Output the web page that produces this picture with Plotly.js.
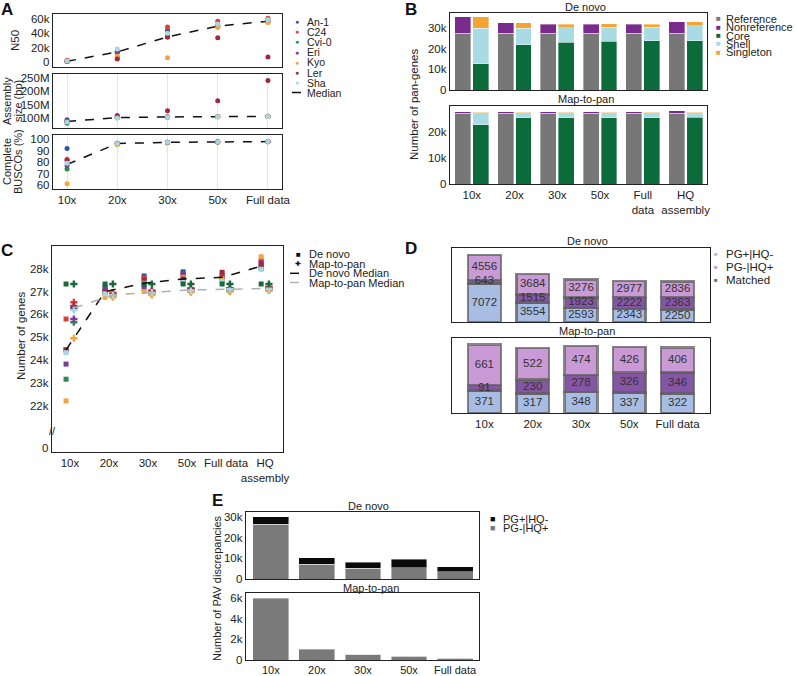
<!DOCTYPE html>
<html>
<head>
<meta charset="utf-8">
<script src="https://cdn.plot.ly/plotly-3.0.1.min.js"></script>
<style>
body { margin: 0; background: #fff; }
#plotArea { width: 797px; height: 676px; }
</style>
</head>
<body>
<div id="plotArea"></div>
<script>
var W = 797, H = 676;
var FONT = "Liberation Sans, Arial, sans-serif";
function px(x) { return x / W; }
function py(y) { return 1 - y / H; }

// ---- panel A: assembly stats per coverage ----
var coverage = ["10x", "20x", "30x", "50x", "Full data"];
var accessions = ["An-1", "C24", "Cvi-0", "Eri", "Kyo", "Ler", "Sha"];
var accColors = ["#2f559a", "#e23b3b", "#2b8a4f", "#7b3b96", "#f2a53a", "#a3283c", "#a9d6e3"];

var n50 = [
    [1500, 15000, 44000, 51000, 58000],
    [2500, 6000, 49000, 57000, 61000],
    [1000, 13000, 36000, 50000, 57000],
    [800, 14000, 35000, 50000, 56000],
    [1200, 8000, 6000, 48000, 55000],
    [1000, 4000, 35000, 34000, 7000],
    [1500, 18000, 40000, 53000, 59000]
];
var n50Median = [1000, 14000, 35000, 50000, 57000];

var asmSize = [
    [94e6, 103e6, 104e6, 106e6, 107e6],
    [88e6, 102e6, 104e6, 105e6, 106e6],
    [81e6, 101e6, 103e6, 105e6, 106e6],
    [87e6, 102e6, 104e6, 106e6, 107e6],
    [86e6, 101e6, 103e6, 105e6, 106e6],
    [88e6, 110e6, 127e6, 165e6, 240e6],
    [85e6, 100e6, 103e6, 105e6, 106e6]
];
var asmMedian = [87e6, 102e6, 104e6, 106e6, 106.5e6];

var busco = [
    [92, 96.5, 97.5, 97.8, 98],
    [82.5, 96, 97.3, 97.7, 97.9],
    [74, 96, 97.2, 97.6, 97.8],
    [77, 96.3, 97.4, 97.8, 98],
    [61, 95.5, 96.8, 97.6, 97.9],
    [81.5, 96.5, 97.5, 97.8, 98],
    [79, 96.4, 97.4, 97.8, 98]
];
var buscoMedian = [78, 96.3, 97.4, 97.8, 98];

// ---- panel B: pan-genes ----
var bCats = ["10x", "20x", "30x", "50x", "Full<br>data", "HQ<br>assembly"];
var dnReference = [27300, 27300, 27300, 27300, 27300, 27300];
var dnNonreference = [7900, 5000, 4500, 4500, 4500, 5500];
var dnCore = [12700, 21900, 22900, 23400, 23700, 23700];
var dnShell = [17000, 7800, 7100, 6800, 6500, 7300];
var dnSingleton = [5500, 2600, 1800, 1700, 1600, 1800];
var mpReference = [26900, 26900, 26900, 26900, 26900, 26900];
var mpNonreference = [600, 600, 600, 600, 600, 1000];
var mpCore = [22500, 25200, 25200, 25200, 25200, 25400];
var mpShell = [4700, 2000, 2000, 2000, 2000, 1800];
var mpSingleton = [100, 100, 100, 100, 100, 100];
var panNames = ["Reference", "Nonreference", "Core", "Shell", "Singleton"];
var panColors = ["#777777", "#7a2a8c", "#0b6b3a", "#a8dbe3", "#f4a531"];

// ---- panel C: number of genes ----
var cCats = ["10x", "20x", "30x", "50x", "Full data", "HQ<br>assembly"];
var cDenovo = [
    [24450, 27200, 27680, 27860, 27600, 28080],
    [25800, 27000, 27580, 27720, 27720, 28380],
    [23170, 26950, 27300, 27450, 27500, 28000],
    [23830, 27100, 27140, 27790, 27600, 28260],
    [22220, 26750, 27000, 27620, 27550, 28520],
    [24450, 27000, 27500, 27550, 27840, 28190],
    [24330, 26900, 27360, 27400, 27430, 27970]
];
var cMapToPan = [
    [26280, 26900, 27000, 27100, 27100, 27150],
    [26530, 26950, 27050, 27150, 27150, 27200],
    [25660, 26800, 26900, 27000, 27020, 27050],
    [25800, 26850, 26950, 27050, 27080, 27100],
    [24960, 26750, 26850, 26980, 27000, 27050],
    [26370, 26900, 27000, 27120, 27130, 27180],
    [26190, 26850, 26950, 27050, 27100, 27120]
];
var cReference = [27330, 27330, 27330, 27330, 27330, 27330];
var cDenovoMedian = [24450, 27000, 27360, 27550, 27620, 28110];
var cMapMedian = [26280, 26850, 26970, 27070, 27100, 27140];

// ---- panel D: PAV comparison ----
var dCats = ["10x", "20x", "30x", "50x", "Full data"];
var dDnPgHq = [7072, 3554, 2593, 2343, 2250];
var dDnMatched = [643, 1515, 1923, 2222, 2363];
var dDnHqPg = [4556, 3684, 3276, 2977, 2836];
var dMpPgHq = [371, 317, 348, 337, 322];
var dMpMatched = [91, 230, 278, 326, 346];
var dMpHqPg = [661, 522, 474, 426, 406];
var dNames = ["PG+|HQ-", "PG-|HQ+", "Matched"];
var dColors = ["#a8bde3", "#c99ad6", "#8656a6"];

// ---- panel E: PAV discrepancies ----
var eCats = ["10x", "20x", "30x", "50x", "Full data"];
var eDnMissing = [26400, 7100, 5200, 5500, 3500];
var eDnExtra = [3600, 3200, 3000, 4000, 2400];
var eMpMissing = [5950, 1000, 560, 380, 190];
var eMpExtra = [30, 20, 20, 40, 20];

var traces = [];
var annotations = [];
var shapes = [];

function note(text, x, y, o) {
    o = o || {};
    return {
        text: text, x: px(x), y: py(y), xref: "paper", yref: "paper", showarrow: false,
        xanchor: o.xanchor || "center", yanchor: o.yanchor || "middle", textangle: o.angle || 0,
        font: {family: FONT, size: o.size || 11, color: o.color || "#222"}
    };
}

function dashLine(x0, x1, y, color) {
    shapes.push({type: "line", xref: "paper", yref: "paper", x0: px(x0), x1: px(x1), y0: py(y), y1: py(y),
        line: {color: color, dash: "dash", width: 1.5}});
}

// A traces
var aMetrics = [n50, asmSize, busco];
var aMedians = [n50Median, asmMedian, buscoMedian];
aMetrics.forEach(function (metric, m) {
    var xa = m === 0 ? "x" : "x" + (m + 1);
    var ya = m === 0 ? "y" : "y" + (m + 1);
    traces.push({x: coverage, y: aMedians[m], type: "scatter", mode: "lines", xaxis: xa, yaxis: ya,
        line: {color: "#111", dash: "dash", width: 1.5}, showlegend: false});
    accessions.forEach(function (acc, k) {
        traces.push({x: coverage, y: metric[k], type: "scatter", mode: "markers", name: acc, xaxis: xa, yaxis: ya,
            marker: {color: accColors[k], size: 5}, showlegend: false});
    });
});

// B traces
var bIdx = bCats.map(function (c, i) { return i; });
var bLeft = bIdx.map(function (i) { return i - 0.21; });
var bRight = bIdx.map(function (i) { return i + 0.21; });
function panBars(xa, ya, series) {
    series.forEach(function (vals, k) {
        traces.push({type: "bar", x: k < 2 ? bLeft : bRight, y: vals, width: 0.37, name: panNames[k],
            xaxis: xa, yaxis: ya, showlegend: false,
            marker: {color: panColors[k], line: {color: "rgba(255,255,255,0.6)", width: 0.6}}});
    });
}
panBars("x4", "y4", [dnReference, dnNonreference, dnCore, dnShell, dnSingleton]);
panBars("x5", "y5", [mpReference, mpNonreference, mpCore, mpShell, mpSingleton]);

// C traces
var cIdx = cCats.map(function (c, i) { return i; });
var cLeft = cIdx.map(function (i) { return i - 0.1; });
var cRight = cIdx.map(function (i) { return i + 0.1; });
accessions.forEach(function (acc, k) {
    traces.push({x: cLeft, y: cDenovo[k], type: "scatter", mode: "markers", name: acc, xaxis: "x6", yaxis: "y6",
        marker: {color: accColors[k], size: 5, symbol: "square"}, showlegend: false});
});
accessions.forEach(function (acc, k) {
    traces.push({x: cRight, y: cMapToPan[k], type: "scatter", mode: "markers", name: acc, xaxis: "x6", yaxis: "y6",
        marker: {color: accColors[k], size: 6, symbol: "cross"}, showlegend: false});
});
traces.push({x: cLeft, y: cReference, type: "scatter", mode: "markers", xaxis: "x6", yaxis: "y6",
    marker: {color: "#166a3c", size: 5, symbol: "square"}, showlegend: false});
traces.push({x: cRight, y: cReference, type: "scatter", mode: "markers", xaxis: "x6", yaxis: "y6",
    marker: {color: "#166a3c", size: 6, symbol: "cross"}, showlegend: false});
traces.push({x: cLeft, y: cDenovoMedian, type: "scatter", mode: "lines", xaxis: "x6", yaxis: "y6",
    line: {color: "#111", dash: "dash", width: 1.5}, showlegend: false});
traces.push({x: cRight, y: cMapMedian, type: "scatter", mode: "lines", xaxis: "x6", yaxis: "y6",
    line: {color: "#b0b0b0", dash: "dash", width: 1.5}, showlegend: false});

// D traces
function pavBars(xa, ya, bottom, middle, top) {
    var segs = [bottom, middle, top];
    var colors = [dColors[0], dColors[2], dColors[1]];
    segs.forEach(function (vals, k) {
        traces.push({type: "bar", x: dCats, y: vals, width: 0.68, xaxis: xa, yaxis: ya, showlegend: false,
            marker: {color: colors[k], line: {color: "rgba(95,95,95,0.75)", width: 2.5}}});
    });
    var mids = [], labels = [], xs = [];
    dCats.forEach(function (c, i) {
        var b = bottom[i], m = middle[i], t = top[i];
        xs.push(c, c, c);
        mids.push(b / 2, b + m / 2, b + m + t / 2);
        labels.push(String(b), String(m), String(t));
    });
    traces.push({type: "scatter", mode: "text", x: xs, y: mids, text: labels, xaxis: xa, yaxis: ya,
        textfont: {family: FONT, size: 11.5, color: "#333"}, showlegend: false, hoverinfo: "skip"});
}
pavBars("x7", "y7", dDnPgHq, dDnMatched, dDnHqPg);
pavBars("x8", "y8", dMpPgHq, dMpMatched, dMpHqPg);

// E traces
function discBars(xa, ya, missing, extra) {
    traces.push({type: "bar", x: eCats, y: missing, width: 0.78, xaxis: xa, yaxis: ya, name: "PG-|HQ+",
        marker: {color: "#7a7a7a", line: {color: "rgba(255,255,255,0.7)", width: 0.6}}, showlegend: false});
    traces.push({type: "bar", x: eCats, y: extra, width: 0.78, xaxis: xa, yaxis: ya, name: "PG+|HQ-",
        marker: {color: "#0a0a0a", line: {color: "rgba(255,255,255,0.7)", width: 0.6}}, showlegend: false});
}
discBars("x9", "y9", eDnMissing, eDnExtra);
discBars("x10", "y10", eMpMissing, eMpExtra);

// axes
function axis(x0, x1, extra) {
    return Object.assign({
        domain: [x0, x1], showline: true, mirror: true, linecolor: "#222", linewidth: 1.2,
        ticks: "", showgrid: false, zeroline: false, fixedrange: true, tickangle: 0,
        tickfont: {family: FONT, size: 11.5, color: "#222"}
    }, extra);
}
var smallTicks = {family: FONT, size: 11, color: "#222"};
var layout = {
    width: W, height: H, autosize: false,
    margin: {l: 0, r: 0, t: 0, b: 0},
    paper_bgcolor: "#fff", plot_bgcolor: "#fff",
    showlegend: false, barmode: "stack",
    font: {family: FONT, size: 11, color: "#222"},
    xaxis: axis(px(53), px(282), {anchor: "y", type: "category", categoryarray: coverage, range: [-0.28, 4.28], showticklabels: false}),
    yaxis: axis(py(67), py(14), {anchor: "x", range: [-7000, 67000], tickvals: [0, 20000, 40000, 60000], tickformat: "~s"}),
    xaxis2: axis(px(53), px(282), {anchor: "y2", type: "category", categoryarray: coverage, range: [-0.28, 4.28], showticklabels: false, showgrid: true, gridcolor: "#dfe7ef"}),
    yaxis2: axis(py(128), py(74), {anchor: "x2", range: [62.8e6, 264.7e6], tickvals: [100e6, 150e6, 200e6, 250e6], tickformat: "~s"}),
    xaxis3: axis(px(53), px(282), {anchor: "y3", type: "category", categoryarray: coverage, range: [-0.28, 4.28], showgrid: true, gridcolor: "#dfe7ef"}),
    yaxis3: axis(py(189), py(135), {anchor: "x3", range: [56.4, 103.8], tickvals: [60, 70, 80, 90, 100]}),
    xaxis4: axis(px(450), px(707), {anchor: "y4", range: [-0.51, 5.5], showticklabels: false}),
    yaxis4: axis(py(90), py(13), {anchor: "x4", range: [0, 37100], tickvals: [0, 10000, 20000, 30000], tickformat: "~s"}),
    xaxis5: axis(px(450), px(707), {anchor: "y5", range: [-0.51, 5.5], tickvals: bIdx, ticktext: bCats}),
    yaxis5: axis(py(184), py(106), {anchor: "x5", range: [0, 29700], tickvals: [0, 10000, 20000], tickformat: "~s"}),
    xaxis6: axis(px(52), px(283), {anchor: "y6", range: [-0.46, 5.46], tickvals: cIdx, ticktext: cCats}),
    yaxis6: axis(py(452), py(246), {anchor: "x6", range: [19990, 28990],
        tickvals: [20170, 22000, 23000, 24000, 25000, 26000, 27000, 28000],
        ticktext: ["0", "22k", "23k", "24k", "25k", "26k", "27k", "28k"]}),
    xaxis7: axis(px(452), px(710), {anchor: "y7", type: "category", categoryarray: dCats, range: [-0.67, 4.67], showticklabels: false}),
    yaxis7: axis(py(322), py(248), {anchor: "x7", range: [0, 13550], showticklabels: false}),
    xaxis8: axis(px(452), px(710), {anchor: "y8", type: "category", categoryarray: dCats, range: [-0.67, 4.67]}),
    yaxis8: axis(py(413), py(338), {anchor: "x8", range: [0, 1233], showticklabels: false}),
    xaxis9: axis(px(246), px(479), {anchor: "y9", type: "category", categoryarray: eCats, range: [-0.54, 4.52], showticklabels: false}),
    yaxis9: axis(py(579), py(512), {anchor: "x9", range: [0, 32400], tickvals: [0, 10000, 20000, 30000], tickformat: "~s"}),
    xaxis10: axis(px(246), px(479), {anchor: "y10", type: "category", categoryarray: eCats, range: [-0.54, 4.52], tickfont: smallTicks}),
    yaxis10: axis(py(660), py(593), {anchor: "x10", range: [0, 6500], tickvals: [0, 2000, 4000, 6000], tickformat: "~s"})
};

// panel letters
[["A", 7, 9], ["B", 411, 9], ["C", 7, 250], ["D", 411, 249], ["E", 217, 501]].forEach(function (p) {
    annotations.push(note("<b>" + p[0] + "</b>", p[1], p[2], {size: 17, color: "#111"}));
});

// subplot titles
annotations.push(note("De novo", 585, 7));
annotations.push(note("Map-to-pan", 586, 99));
annotations.push(note("De novo", 587, 241));
annotations.push(note("Map-to-pan", 587, 331));
annotations.push(note("De novo", 368, 506));
annotations.push(note("Map-to-pan", 371, 588));

// axis titles
annotations.push(note("N50", 15, 40, {angle: -90, size: 11.5}));
annotations.push(note("Assembly", 7, 101, {angle: -90, size: 11}));
annotations.push(note("size (bp)", 18, 101, {angle: -90, size: 11}));
annotations.push(note("Complete", 7, 162, {angle: -90, size: 11}));
annotations.push(note("BUSCOs (%)", 18, 162, {angle: -90, size: 11}));
annotations.push(note("Number of pan-genes", 414, 104, {angle: -90, size: 11.5}));
annotations.push(note("Number of genes", 21, 336, {angle: -90, size: 11.5}));
annotations.push(note("Number of PAV discrepancies", 217, 588, {angle: -90, size: 11}));

// axis break in C
annotations.push(note("//", 52, 431, {size: 11, color: "#222"}));

// legend A
accessions.forEach(function (acc, k) {
    var yy = 21.5 + k * 10.2;
    annotations.push(note("\u25CF", 297, yy, {size: 7, color: accColors[k]}));
    annotations.push(note(acc, 305, yy, {xanchor: "left", size: 10.5}));
});
dashLine(292, 303, 92.5, "#111");
annotations.push(note("Median", 305, 92.5, {xanchor: "left", size: 10.5}));

// legend B
panNames.forEach(function (name, k) {
    var yy = 18.7 + k * 8.4;
    annotations.push(note("\u25A0", 718, yy, {size: 8, color: panColors[k]}));
    annotations.push(note(name, 724, yy, {xanchor: "left", size: 11}));
});

// legend C
annotations.push(note("\u25A0", 298, 254, {size: 8, color: "#111"}));
annotations.push(note("De novo", 307, 254, {xanchor: "left", size: 11}));
annotations.push(note("\u271A", 298, 263.5, {size: 7, color: "#111"}));
annotations.push(note("Map-to-pan", 307, 263.5, {xanchor: "left", size: 11}));
dashLine(290, 305, 273.3, "#111");
annotations.push(note("De novo Median", 307, 273.3, {xanchor: "left", size: 11}));
dashLine(290, 305, 282.5, "#b0b0b0");
annotations.push(note("Map-to-pan Median", 307, 282.5, {xanchor: "left", size: 11}));

// legend D
dNames.forEach(function (name, k) {
    var yy = 254 + k * 13;
    annotations.push(note("\u25A0", 716, yy, {size: 6, color: dColors[k]}));
    annotations.push(note(name, 724, yy, {xanchor: "left", size: 11.5}));
});

// legend E
annotations.push(note("\u25A0", 492, 519.3, {size: 9, color: "#0a0a0a"}));
annotations.push(note("PG+|HQ-", 501, 519.3, {xanchor: "left", size: 11}));
annotations.push(note("\u25A0", 492, 528, {size: 9, color: "#7a7a7a"}));
annotations.push(note("PG-|HQ+", 501, 528, {xanchor: "left", size: 11}));

layout.annotations = annotations;
layout.shapes = shapes;

Plotly.newPlot("plotArea", traces, layout, {staticPlot: true, displayModeBar: false});
</script>
</body>
</html>
